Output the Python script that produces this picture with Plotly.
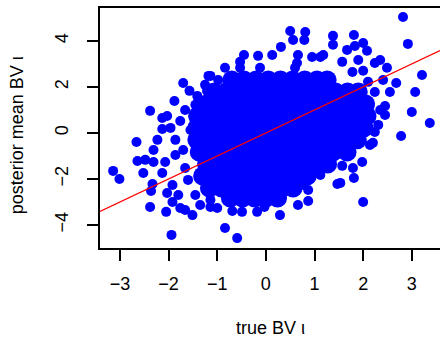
import plotly.graph_objects as go

# Scattered points (true BV, posterior mean BV)
edge_x = [-2.38, -2.13, -2.03, -1.76, -1.88, -1.70, -1.57, -1.41, -1.21, -1.18, -1.49,
          0.50, 0.81, 0.56, 0.79, 0.31, 0.13, -0.16, -0.45, -0.53, -0.53, -0.84, -1.14,
          -0.12, 0.66, 0.64, 0.60, 0.95, 1.12, 1.18,
          1.38, 1.81, 2.00, 1.38, 1.67, 1.83, 2.08, 2.35, 2.24, 2.49, 2.41, 2.00, 2.68,
          2.55, 2.45, 2.45,
          2.82, 2.92, 3.21, 3.07, 3.00, 3.37, 2.78, 2.24, 2.20, 1.98, 1.79, 1.81, 1.53,
          1.57, 2.00,
          -0.84, -0.59, -0.69, -0.49, -0.18, -0.03, 0.29, 0.66, 0.87, 0.87, 0.77, 1.12,
          -1.00, 0.23, 0.44,
          -2.66, -2.64, -2.52, -2.48, -2.31, -2.31, -2.23, -2.13, -2.13, -2.07, -2.33,
          -2.36, -2.38, -2.05, -1.76, -1.94, -2.03, -1.92, -3.14, -3.01,
          -1.86, -1.86, -1.92, -1.80, -1.66, -1.51, -1.66, -1.96, -1.45,
          -1.70, -1.66, -1.60, -1.45, -1.35, -1.14, -1.55, -1.39, -1.25, -0.98,
          -1.14, 1.47, 1.57, 1.78, 2.10, 2.24, 1.90, 2.35, 2.31, 2.14]
edge_y = [0.96, 0.65, 0.74, 0.52, 1.39, 2.17, 1.83, 1.61, 1.83, 2.48, 0.74,
          4.43, 4.39, 4.04, 4.04, 3.74, 3.39, 3.35, 3.39, 3.09, 2.83, 2.83, 2.48,
          2.83, 3.39, 3.04, 2.83, 3.30, 3.30, 3.39,
          4.22, 4.26, 3.91, 3.83, 3.61, 3.78, 3.57, 3.17, 3.04, 2.83, 2.30, 2.70, 2.17,
          1.78, 1.17, 0.78,
          5.04, 3.87, 2.52, 1.78, 0.91, 0.43, -0.13, 0.04, -0.43, -1.26, -1.52, -1.96, -2.17,
          -1.43, -3.00,
          -4.13, -4.57, -3.39, -3.43, -3.43, -3.22, -3.57, -3.13, -2.96, -2.48, -2.26, -1.83,
          -3.26, -2.78, -2.48,
          -0.39, -1.22, -1.74, -1.17, -1.26, -0.74, -0.30, 0.17, -1.74, -1.26, -2.22,
          -2.52, -3.22, -3.43, -3.26, -4.43, -2.61, -3.00, -1.65, -2.00,
          -0.30, -0.96, -2.26, -2.70, -3.35, -3.57, 1.00, 0.22, 1.22,
          -0.74, -1.52, -2.04, -2.70, -3.13, -2.91, 0.13, 1.43, 2.09, 2.30,
          -3.22, -2.22, 3.09, 2.65, 2.22, 1.78, 3.17, 1.00, 0.35, -0.52]

# Dense core of the cloud, read row by row (posterior mean level, true BV values)
core_row_y = [2.30, 1.78, 1.26, 0.74, 0.22, -0.30, -0.83, -1.35, -1.87, -2.39, -2.83]
core_row_x = [
    [-0.70, -0.45, -0.20, 0.05, 0.30, 0.55, 0.80, 1.05, 1.26],
    [-1.06, -0.82, -0.57, -0.32, -0.07, 0.18, 0.43, 0.68, 0.93, 1.18, 1.43, 1.68, 1.90],
    [-1.22, -0.97, -0.72, -0.47, -0.22, 0.03, 0.28, 0.53, 0.78, 1.03, 1.28, 1.53, 1.78, 2.05],
    [-1.40, -1.15, -0.90, -0.65, -0.40, -0.15, 0.10, 0.35, 0.60, 0.85, 1.10, 1.35, 1.60, 1.85, 2.08],
    [-1.42, -1.17, -0.92, -0.67, -0.42, -0.17, 0.08, 0.33, 0.58, 0.83, 1.08, 1.33, 1.58, 1.83, 2.02],
    [-1.42, -1.17, -0.92, -0.67, -0.42, -0.17, 0.08, 0.33, 0.58, 0.83, 1.08, 1.33, 1.58, 1.88],
    [-1.37, -1.12, -0.87, -0.62, -0.37, -0.12, 0.13, 0.38, 0.63, 0.88, 1.13, 1.38, 1.67],
    [-1.22, -0.97, -0.72, -0.47, -0.22, 0.03, 0.28, 0.53, 0.78, 1.03, 1.27],
    [-1.30, -1.05, -0.80, -0.55, -0.30, -0.05, 0.20, 0.45, 0.70, 0.85],
    [-1.16, -0.91, -0.66, -0.41, -0.16, 0.09, 0.34, 0.56],
    [-0.73, -0.48, -0.23, 0.00, 0.24],
]

x_ticks = [-3, -2, -1, 0, 1, 2, 3]
y_ticks = [-4, -2, 0, 2, 4]
x_range = [-3.41, 3.58]
y_range = [-5.0, 5.43]
line_intercept = 0.0
line_slope = 1.0

core_x = [x for row in core_row_x for x in row]
core_y = [y for y, row in zip(core_row_y, core_row_x) for _ in row]

BLUE = "#0000FF"
FONT = "Liberation Sans, Arial, sans-serif"

fig = go.Figure()
fig.add_trace(go.Scatter(x=core_x, y=core_y, mode="markers",
                         marker=dict(color=BLUE, size=19, line=dict(width=0)),
                         hoverinfo="skip", showlegend=False))
fig.add_trace(go.Scatter(x=edge_x, y=edge_y, mode="markers",
                         marker=dict(color=BLUE, size=10, line=dict(width=0)),
                         showlegend=False))
fig.add_trace(go.Scatter(x=x_range,
                         y=[line_intercept + line_slope * v for v in x_range],
                         mode="lines", line=dict(color="#FF0000", width=1.2),
                         showlegend=False))

fig.update_layout(
    width=440, height=339,
    margin=dict(l=100, r=0, t=8, b=91),
    plot_bgcolor="white", paper_bgcolor="white",
    font=dict(family=FONT, size=18, color="black"),
    xaxis=dict(range=x_range, tickvals=x_ticks, ticktext=[str(v).replace("-", "−") for v in x_ticks],
               showgrid=False, zeroline=False, showline=True, mirror=True,
               linecolor="black", linewidth=1.5, ticks="outside", ticklen=11,
               tickwidth=1.5, tickcolor="black", ticklabelstandoff=8,
               tickfont=dict(size=18)),
    yaxis=dict(range=y_range, tickvals=y_ticks, ticktext=[str(v).replace("-", "−") for v in y_ticks],
               showgrid=False, zeroline=False, showline=True, mirror=False,
               linecolor="black", linewidth=1.5, ticks="outside", ticklen=11,
               tickwidth=1.5, tickcolor="black", tickangle=-90, ticklabelstandoff=12,
               tickfont=dict(size=18)),
    annotations=[
        dict(text="true BV ι", xref="paper", yref="paper", x=0.5, y=-0.333,
             xanchor="center", yanchor="middle", showarrow=False, font=dict(size=18)),
        dict(text="posterior mean BV ι", xref="paper", yref="paper", x=-0.244, y=0.47,
             xanchor="center", yanchor="middle", textangle=-90, showarrow=False,
             font=dict(size=18)),
    ],
)

fig.write_html("out.html", config={"displayModeBar": False},
               post_script="document.body.style.margin='0';document.body.style.overflow='hidden';")
